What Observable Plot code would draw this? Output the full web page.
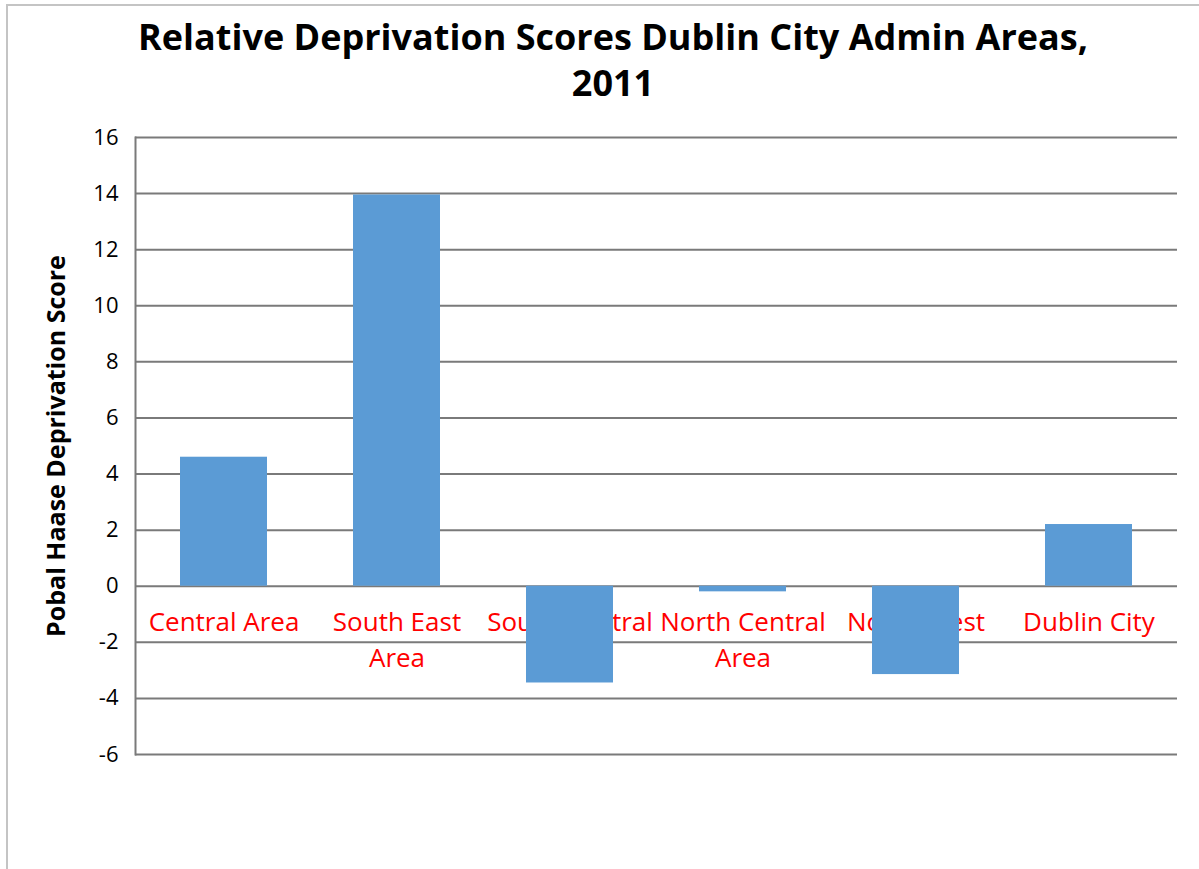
<!DOCTYPE html>
<html>
<head>
<meta charset="utf-8">
<script src="https://cdn.jsdelivr.net/npm/d3@7"></script>
<script src="https://cdn.jsdelivr.net/npm/@observablehq/plot@0.6"></script>
<style>
  html, body { margin: 0; padding: 0; background: #fff; }
  #wrap { position: relative; width: 1199px; height: 869px; overflow: hidden; font-family: "Open Sans", "Liberation Sans", sans-serif; }
  #border { position: absolute; left: 6px; top: 4px; width: 1300px; height: 1000px; border-left: 2px solid #c4c4c4; border-top: 2px solid #c4c4c4; }
  #title { position: absolute; left: 0; top: 14px; width: 1226px; text-align: center; font-weight: bold; font-size: 36px; line-height: 46px; color: #000; }
  #chart { position: absolute; left: 0; top: 110px; }
</style>
</head>
<body>
<div id="wrap">
  <div id="border"></div>
  <div id="title">Relative Deprivation Scores Dublin City Admin Areas,<br>2011</div>
  <div id="chart"></div>
</div>
<script>
const categories = ["Central Area", "South East Area", "South Central Area", "North Central Area", "North West Area", "Dublin City"];
const tickLabels = ["Central Area", "South East\nArea", "South Central\nArea", "North Central\nArea", "North West\nArea", "Dublin City"];
const scores = [4.6, 13.95, -3.45, -0.2, -3.15, 2.2];
const yTicks = [-6, -4, -2, 0, 2, 4, 6, 8, 10, 12, 14, 16];
const yTitle = "Pobal Haase Deprivation Score";

const data = categories.map((c, i) => ({ area: c, label: tickLabels[i], score: scores[i] }));

const chart = Plot.plot({
  width: 1199,
  height: 759,
  marginTop: 27,
  marginBottom: 115,
  marginLeft: 135,
  marginRight: 22,
  style: { fontFamily: "'Open Sans', 'Liberation Sans', sans-serif", fontSize: "22px", color: "#000", background: "transparent" },
  x: { domain: categories, paddingInner: 0.5, paddingOuter: 0.25, axis: null },
  y: { domain: [-6, 16], ticks: yTicks, tickSize: 0, tickPadding: 17, label: null, tickFormat: d => d < 0 ? "-" + Math.abs(d) : String(d) },
  marks: [
    Plot.ruleY(yTicks, { stroke: "#7a7a7a", strokeWidth: 2 }),
    Plot.frame({ anchor: "left", stroke: "#7a7a7a", strokeWidth: 2 }),
    Plot.text(data, { x: "area", y: () => 0, text: "label", fill: "#ff0000", fontSize: 26, lineAnchor: "top", lineHeight: 1.385, dy: 19 }),
    Plot.barY(data, { x: "area", y: "score", fill: "#5b9bd5" }),
    Plot.text([yTitle], { frameAnchor: "left", text: d => d, rotate: -90, dx: -79, textAnchor: "middle", fontWeight: "bold", fontSize: 25, fill: "#000" })
  ]
});
document.getElementById("chart").appendChild(chart);
</script>
</body>
</html>
